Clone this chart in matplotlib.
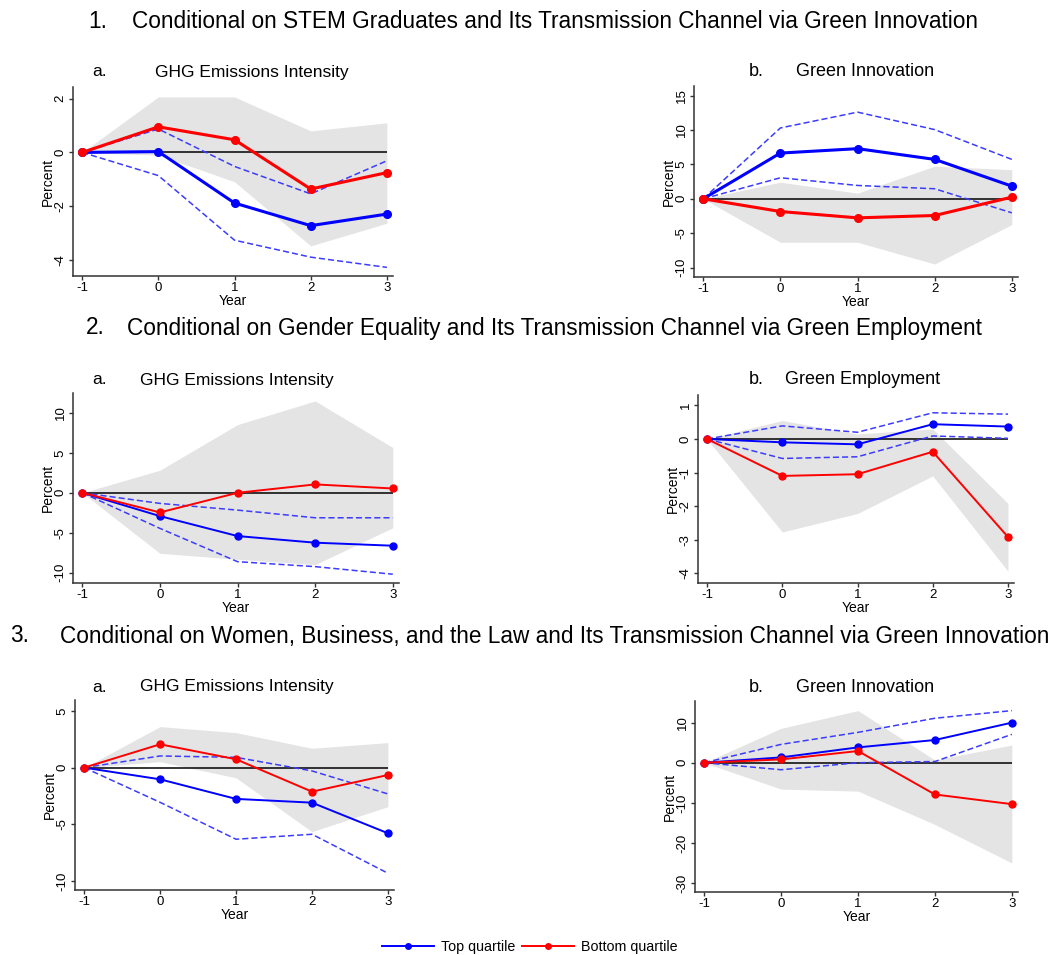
import numpy as np
import matplotlib.pyplot as plt

plt.rcParams['font.family'] = ['Liberation Sans', 'DejaVu Sans']
plt.rcParams['axes.unicode_minus'] = False

years = [-1, 0, 1, 2, 3]

# 1a. GHG emissions intensity (STEM graduates)
top_1a = [0, 0.03, -1.88, -2.72, -2.29]
top_1a_hi = [0, 0.87, -0.52, -1.54, -0.31]
top_1a_lo = [0, -0.86, -3.26, -3.89, -4.27]
bot_1a = [0, 0.95, 0.47, -1.36, -0.75]
bot_1a_hi = [0, 2.06, 2.06, 0.80, 1.10]
bot_1a_lo = [0, -0.10, -1.09, -3.47, -2.63]

# 1b. Green innovation (STEM graduates)
top_1b = [0, 6.65, 7.29, 5.73, 1.84]
top_1b_hi = [0, 10.3, 12.6, 10.06, 5.73]
top_1b_lo = [0, 3.06, 1.94, 1.46, -2.04]
bot_1b = [0, -1.85, -2.77, -2.43, 0.24]
bot_1b_hi = [0, 2.42, 0.82, 4.75, 4.23]
bot_1b_lo = [0, -6.32, -6.32, -9.48, -3.74]

# 2a. GHG emissions intensity (gender equality)
top_2a = [0, -2.92, -5.42, -6.25, -6.63]
top_2a_hi = [0, -1.33, -2.17, -3.13, -3.13]
top_2a_lo = [0, -4.46, -8.63, -9.25, -10.2]
bot_2a = [0, -2.46, 0.0, 1.05, 0.54]
bot_2a_hi = [0, 2.83, 8.54, 11.5, 5.67]
bot_2a_lo = [0, -7.58, -8.33, -9.0, -4.38]

# 2b. Green employment (gender equality)
top_2b = [0, -0.10, -0.16, 0.44, 0.37]
top_2b_hi = [0, 0.39, 0.20, 0.78, 0.74]
top_2b_lo = [0, -0.58, -0.53, 0.09, 0.02]
bot_2b = [0, -1.10, -1.05, -0.38, -2.92]
bot_2b_hi = [0, 0.55, 0.15, 0.30, -1.92]
bot_2b_lo = [0, -2.77, -2.22, -1.10, -3.94]

# 3a. GHG emissions intensity (women, business and the law)
top_3a = [0, -1.03, -2.76, -3.09, -5.79]
top_3a_hi = [0, 1.03, 0.91, -0.29, -2.32]
top_3a_lo = [0, -3.06, -6.32, -5.88, -9.32]
bot_3a = [0, 2.06, 0.74, -2.12, -0.65]
bot_3a_hi = [0, 3.62, 3.09, 1.71, 2.21]
bot_3a_lo = [0, 0.53, -0.9, -5.65, -3.44]

# 3b. Green innovation (women, business and the law)
top_3b = [0, 1.33, 3.83, 5.67, 10.0]
top_3b_hi = [0, 4.58, 7.58, 11.1, 13.0]
top_3b_lo = [0, -1.75, 0.0, 0.3, 7.08]
bot_3b = [0, 0.83, 2.92, -7.92, -10.33]
bot_3b_hi = [0, 8.58, 13.0, 0.67, 4.42]
bot_3b_lo = [0, -6.58, -7.08, -15.4, -25.0]

headings = [
    ("1.", "Conditional on STEM Graduates and Its Transmission Channel via Green Innovation"),
    ("2.", "Conditional on Gender Equality and Its Transmission Channel via Green Employment"),
    ("3.", "Conditional on Women, Business, and the Law and Its Transmission Channel via Green Innovation"),
]
subtitles = [
    ("GHG Emissions Intensity", "Green Innovation"),
    ("GHG Emissions Intensity", "Green Employment"),
    ("GHG Emissions Intensity", "Green Innovation"),
]

yticks = [
    [-4, -2, 0, 2], [-10, -5, 0, 5, 10, 15],
    [-10, -5, 0, 5, 10], [-4, -3, -2, -1, 0, 1],
    [-10, -5, 0, 5], [-30, -20, -10, 0, 10],
]
ylims = [(-4.59, 2.43), (-11.37, 16.4), (-11.3, 12.5), (-4.29, 1.31),
         (-10.8, 5.97), (-32.25, 15.4)]

panels = [
    (top_1a, top_1a_hi, top_1a_lo, bot_1a, bot_1a_hi, bot_1a_lo),
    (top_1b, top_1b_hi, top_1b_lo, bot_1b, bot_1b_hi, bot_1b_lo),
    (top_2a, top_2a_hi, top_2a_lo, bot_2a, bot_2a_hi, bot_2a_lo),
    (top_2b, top_2b_hi, top_2b_lo, bot_2b, bot_2b_hi, bot_2b_lo),
    (top_3a, top_3a_hi, top_3a_lo, bot_3a, bot_3a_hi, bot_3a_lo),
    (top_3b, top_3b_hi, top_3b_lo, bot_3b, bot_3b_hi, bot_3b_lo),
]

W, H = 1052, 955
fig = plt.figure(figsize=(W / 100, H / 100), dpi=100)

# axes boxes in pixels: left, right, top, bottom
boxes = [(73, 393, 87, 276), (694, 1018, 86, 277),
         (73, 399, 393, 583), (698, 1014, 395, 583),
         (75, 394, 700, 890), (695, 1018, 701, 892)]

def px(x, y):
    return x / W, 1 - y / H

# section headings
head_pos = [(88, 132, 21), (86, 127, 328), (10, 60, 636)]
for (num, txt), (xn, xt, yy) in zip(headings, head_pos):
    fig.text(*px(xn, yy), num, fontsize=16.25, va='center', ha='left')
    fig.text(*px(xt, yy), txt, fontsize=16.25, va='center', ha='left')

sub_pos = [(155, 796, 72), (140, 785, 380), (140, 796, 687)]
for (ta, tb), (xa, xb, yy) in zip(subtitles, sub_pos):
    fig.text(*px(92, yy), "a.", fontsize=12.5, va='center')
    fig.text(*px(xa, yy), ta, fontsize=12.5, va='center')
    fig.text(*px(749, yy), "b.", fontsize=13, va='center')
    fig.text(*px(xb, yy), tb, fontsize=13, va='center')

for i, (data, box) in enumerate(zip(panels, boxes)):
    top, top_hi, top_lo, bot, bot_hi, bot_lo = data
    l, r, t, b = box
    ax = fig.add_axes([l / W, 1 - b / H, (r - l) / W, (b - t) / H])
    lw = 2.2 if i < 2 else 1.4
    ms = 5.5 if i < 2 else 5

    ax.fill_between(years, bot_lo, bot_hi, color='#e4e4e4', lw=0)
    ax.hlines(0, years[0], years[-1], color='black', lw=1.1, zorder=2)
    ax.plot(years, top_hi, color='#3c3cff', lw=1.1, ls=(0, (4, 2)), zorder=3)
    ax.plot(years, top_lo, color='#3c3cff', lw=1.1, ls=(0, (4, 2)), zorder=3)
    ax.plot(years, top, color='blue', lw=lw, marker='o', ms=ms, zorder=4,
            label='Top quartile')
    ax.plot(years, bot, color='red', lw=lw, marker='o', ms=ms, zorder=5,
            label='Bottom quartile')

    ax.set_xlim(-1.12, 3.08)
    ax.set_ylim(*ylims[i])
    ax.set_xticks(years)
    ax.set_yticks(yticks[i])
    for s in ['top', 'right']:
        ax.spines[s].set_visible(False)
    for s in ['left', 'bottom']:
        ax.spines[s].set_color('#333333')
        ax.spines[s].set_linewidth(1.1)
    ax.tick_params(colors='#333333', labelcolor='black', labelsize=9.5,
                   length=3, width=1, pad=1.5)
    ax.tick_params(axis='y', labelrotation=90)
    for lab in ax.get_yticklabels():
        lab.set_va('center')
    ax.set_xlabel('Year', fontsize=10, labelpad=0)
    ax.set_ylabel('Percent', fontsize=10, labelpad=0)
    ax.patch.set_alpha(0)

handles, labels = ax.get_legend_handles_labels()
fig.legend(handles, labels, loc='center', bbox_to_anchor=(px(530, 947)),
           ncol=2, frameon=False, fontsize=10.3, handlelength=3.6,
           markerscale=0.8, columnspacing=0.5, handletextpad=0.5)

fig.savefig('out.png', dpi=100)
